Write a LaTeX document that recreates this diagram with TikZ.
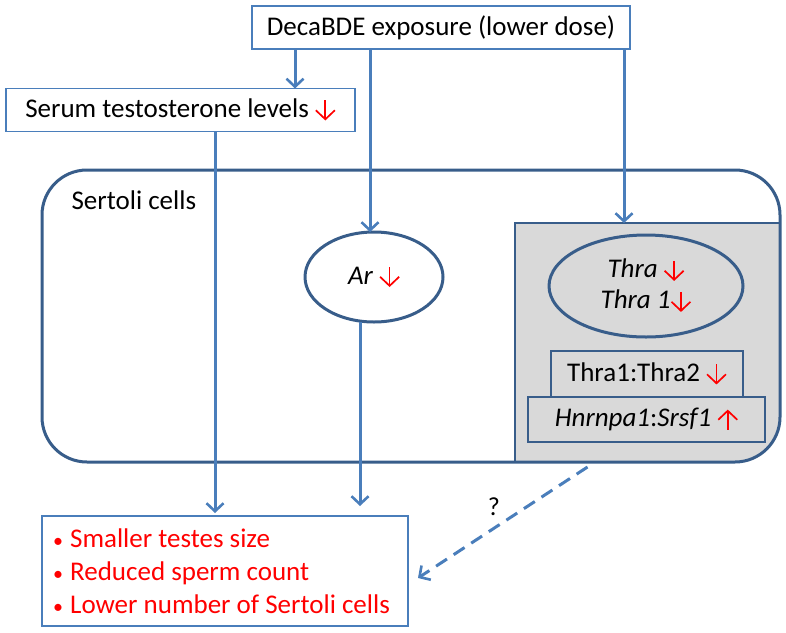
\documentclass[tikz,border=0pt]{standalone}
\usepackage{fontspec}
\setmainfont{Carlito}
\usetikzlibrary{arrows.meta,shapes.geometric,calc}
\definecolor{lblue}{HTML}{4A7EBB}
\definecolor{dblue}{HTML}{385D8A}
\definecolor{gfill}{HTML}{D9D9D9}
\definecolor{rred}{HTML}{FF0000}
\newcommand\dn{\tikz[baseline=0pt,x=1pt,y=1pt]\draw[rred,line width=1.7pt,-{Straight Barb[length=9pt,width=19pt]}] (0,17)--(0,-3);}
\newcommand\upa{\tikz[baseline=0pt,x=1pt,y=1pt]\draw[rred,line width=1.7pt,-{Straight Barb[length=9pt,width=19pt]}] (0,-3)--(0,17);}
\newcommand\bul{{\fontsize{20}{20}\selectfont•}\hspace{7pt}}
\begin{document}
\begin{tikzpicture}[x=1pt,y=-1pt,
  font=\fontsize{27}{32}\selectfont,
  box/.style={draw=lblue, line width=1.2pt, fill=white, inner sep=0, outer sep=0, minimum height=43},
  gbox/.style={draw=dblue, line width=1.6pt, fill=gfill, inner sep=0, outer sep=0},
  arr/.style={draw=lblue, line width=3pt, -{Straight Barb[length=8pt,width=17pt,line width=2.6pt]}},
  ell/.style={ellipse, draw=dblue, line width=3pt, inner sep=0, outer sep=0, fill=white}]
\useasboundingbox (0,0) rectangle (786,632);
% Sertoli cell frame
\node[draw=none, minimum width=738, minimum height=292, inner sep=0, outer sep=0] (sert) at (411,316) {};
\node[draw=none, minimum width=265, minimum height=239, inner sep=0, outer sep=0] (grp) at (647.5,342.5) {};
\begin{scope}
  \clip[rounded corners=45] (sert.north west) rectangle (sert.south east);
  \fill[gfill] (grp.north west) rectangle (grp.south east);
\end{scope}
\draw[dblue, line width=2pt] (grp.south west) -- (grp.north west) -- (grp.north east);
\draw[dblue, line width=3pt, rounded corners=45] (sert.north west) rectangle (sert.south east);
\node[anchor=west] (slab) at (68,200) {Sertoli cells};
% top boxes
\node[box, minimum width=378] (top) at (441,27.5) {DecaBDE exposure (lower dose)};
\node[box, minimum width=349] (serum) at (180.5,110) {Serum testosterone levels \dn};
% ellipses
\node[ell, minimum width=138, minimum height=90] (ar) at (374,277) {\textit{Ar} \dn};
\node[ell, minimum width=194, minimum height=102, fill=gfill, align=center,
      font=\fontsize{27}{31}\selectfont] (thra) at (646,286) {\textit{Thra} \dn\\\textit{Thra 1}\dn};
% small boxes
\node[gbox, minimum width=192, minimum height=46] (tt) at (647,374) {Thra1:Thra2 \dn};
\node[gbox, minimum width=237, minimum height=45] (hs) at (646.5,419.5) {\textit{Hnrnpa1}:\textit{Srsf1} \upa};
% outcome box
\node[box, minimum width=366, minimum height=110, anchor=north west] (out) at (42,516) {};
\node[anchor=west, align=left, text=rred, inner sep=0, font=\fontsize{27}{33}\selectfont] (outtxt) at (53,571)
  {\bul Smaller testes size\\\bul Reduced sperm count\\\bul Lower number of Sertoli cells};
% connectors
\draw[arr] ([xshift=-146pt]top.south) -- ([xshift=-146pt]top.south |- serum.north);
\draw[arr] ([xshift=-71pt]top.south) -- ([xshift=-71pt]top.south |- ar.north);
\draw[arr] ([xshift=-6pt]top.south east) -- ([xshift=-6pt]top.south east |- grp.north);
\draw[arr] ([xshift=34.5pt]serum.south) -- ([xshift=34.5pt,yshift=3pt]serum.south |- out.north);
\draw[arr] ([xshift=-14pt]ar.south) -- ([xshift=-14pt,yshift=10pt]ar.south |- out.north);
\draw[arr, dash pattern=on 13pt off 8pt] ([shift={(-60,5)}]grp.south) -- ([shift={(10,7)}]out.east);
\node[font=\fontsize{26}{28}\selectfont] (q) at (494,507) {?};
\end{tikzpicture}
\end{document}
